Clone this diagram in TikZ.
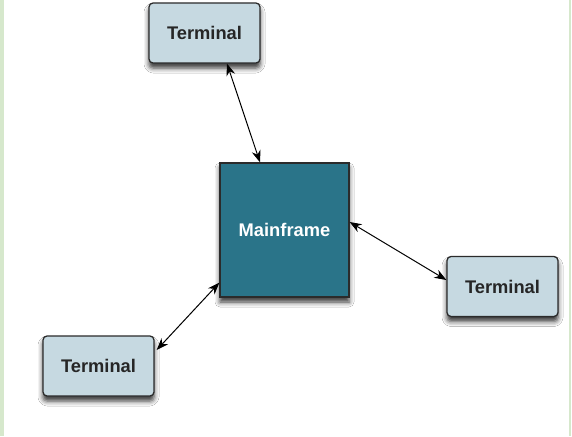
\documentclass[tikz,border=0pt]{standalone}
\usepackage{fontspec}
\setmainfont{Liberation Sans}
\usetikzlibrary{arrows.meta,shadows.blur}
\definecolor{termfill}{HTML}{C6D9E1}
\definecolor{mainfill}{HTML}{2A7489}
\definecolor{edgegray}{HTML}{2B2B2B}
\definecolor{sidegreen}{HTML}{D6E8CC}
\tikzset{
  boxshadow/.style={blur shadow={shadow xshift=0pt, shadow yshift=-5pt, shadow blur radius=5pt, shadow opacity=80}},
  term/.style={draw=edgegray, line width=1.3pt, fill=termfill, rounded corners=4pt,
    minimum width=111pt, minimum height=60pt, inner sep=0pt, boxshadow,
    font=\fontsize{18.3}{21}\selectfont\bfseries, text=black!85},
  mainbox/.style={draw=edgegray, line width=1.3pt, fill=mainfill,
    minimum width=129pt, minimum height=134pt, inner sep=0pt, boxshadow,
    font=\fontsize{18.3}{21}\selectfont\bfseries, text=white},
  conn/.style={draw=black, line width=1pt, {Stealth[length=12pt,width=9pt]}-{Stealth[length=12pt,width=9pt]}}
}
\begin{document}
\begin{tikzpicture}[x=1pt,y=-1pt]
\useasboundingbox (0,0) rectangle (572,436);
\fill[white] (0,0) rectangle (572,436);
\fill[sidegreen] (0,0) rectangle (3.5,436);
\fill[sidegreen] (569,0) rectangle (571,436);
\node[term] (t1) at (204.5,33) {Terminal};
\node[mainbox] (main) at (284.5,230) {Mainframe};
\node[term] (t2) at (502.5,286.5) {Terminal};
\node[term] (t3) at (98.5,366) {Terminal};
\draw[conn] ([xshift=22.5pt]t1.south) -- ([xshift=-24.5pt]main.north);
\draw[conn] ([yshift=8pt]main.east) -- ([yshift=6.5pt]t2.west);
\draw[conn] ([yshift=15pt]main.south west) -- ([xshift=2pt,yshift=16pt]t3.east);
\end{tikzpicture}
\end{document}
